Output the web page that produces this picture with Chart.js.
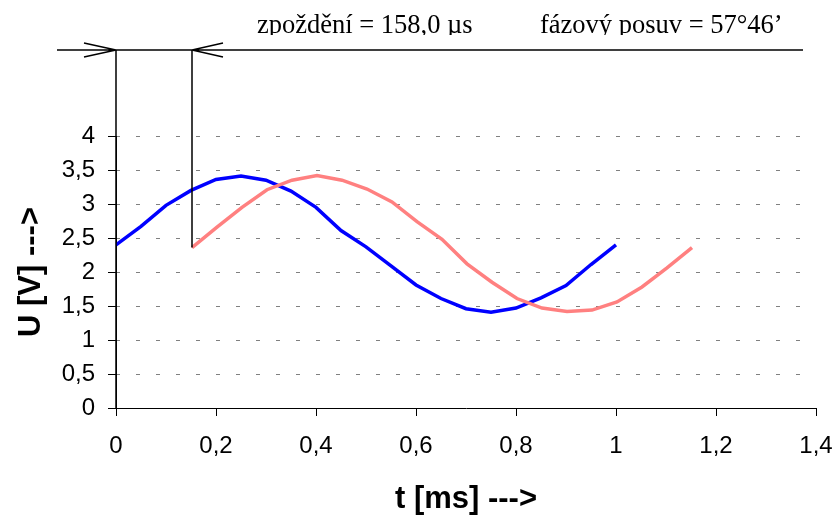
<!DOCTYPE html>
<html>
<head>
<meta charset="utf-8">
<script src="https://cdn.jsdelivr.net/npm/chart.js@4.4.0/dist/chart.umd.min.js"></script>
<style>
  html, body { margin: 0; padding: 0; background: #fff; }
</style>
</head>
<body>
<canvas id="chart" width="836" height="515"></canvas>
<script>
// vstupni signal (modra)
const timeIn = [0, 0.05, 0.1, 0.15, 0.2, 0.25, 0.3, 0.35, 0.4, 0.45, 0.5,
  0.55, 0.6, 0.65, 0.7, 0.75, 0.8, 0.85, 0.9, 0.95, 1.0];
const voltIn = [2.40, 2.67, 2.98, 3.20, 3.36, 3.41, 3.35, 3.19, 2.95, 2.61, 2.37,
  2.09, 1.81, 1.61, 1.46, 1.41, 1.47, 1.62, 1.80, 2.11, 2.40];

// vystupni signal (cervena), posunuty o zpozdeni
const timeOut = [0.152, 0.202, 0.252, 0.302, 0.352, 0.402, 0.452, 0.502, 0.552, 0.602, 0.652,
  0.702, 0.752, 0.802, 0.852, 0.902, 0.952, 1.002, 1.052, 1.102, 1.152];
const voltOut = [2.36, 2.66, 2.95, 3.21, 3.35, 3.42, 3.35, 3.22, 3.03, 2.74, 2.48,
  2.12, 1.85, 1.61, 1.47, 1.42, 1.44, 1.56, 1.78, 2.06, 2.36];

// osy
const xRange = [0, 1.4];
const xStep = 0.2;
const yRange = [0, 4];
const yStep = 0.5;

const noteDelay = 'zpoždění = 158,0 µs';
const notePhase = 'fázový posuv = 57°46’';

function toPoints(xs, ys) {
  return xs.map(function (x, i) { return { x: x, y: ys[i] }; });
}

function czNum(v) {
  return String(Number(v.toFixed(2))).replace('.', ',');
}

const delayMarks = {
  id: 'delayMarks',
  afterDraw(chart) {
    const ctx = chart.ctx;
    const xs = chart.scales.x;
    const ys = chart.scales.y;
    const area = chart.chartArea;
    const xa = xs.getPixelForValue(timeIn[0]);
    const xb = xs.getPixelForValue(timeOut[0]);
    const yBase = ys.getPixelForValue(yRange[0]);
    const yRed = ys.getPixelForValue(voltOut[0]);
    const top = area.top - 86;

    ctx.save();
    ctx.strokeStyle = '#000';
    ctx.lineWidth = 1.5;
    ctx.beginPath();
    ctx.moveTo(xa - 59, top);
    ctx.lineTo(area.right - 13, top);
    // sipka >
    ctx.moveTo(xa - 32, top - 7);
    ctx.lineTo(xa, top);
    ctx.lineTo(xa - 32, top + 7);
    // sipka <
    ctx.moveTo(xb + 31, top - 7);
    ctx.lineTo(xb, top);
    ctx.lineTo(xb + 31, top + 7);
    ctx.stroke();

    ctx.beginPath();
    ctx.moveTo(xa, top);
    ctx.lineTo(xa, yBase);
    ctx.moveTo(xb, top);
    ctx.lineTo(xb, yRed);
    ctx.stroke();

    // texty nahore, spodek orizly
    ctx.beginPath();
    ctx.rect(0, 0, chart.width, top - 15);
    ctx.clip();
    ctx.fillStyle = '#000';
    ctx.font = '26.5px "Liberation Serif"';
    ctx.textBaseline = 'alphabetic';
    ctx.textAlign = 'left';
    ctx.fillText(noteDelay, xa + 141, top - 17);
    ctx.fillText(notePhase, xa + 424, top - 17);
    ctx.restore();
  }
};

const ctx = document.getElementById('chart').getContext('2d');
const myChart = new Chart(ctx, {
  type: 'scatter',
  data: {
    datasets: [
      {
        label: 'vstup',
        data: toPoints(timeIn, voltIn),
        showLine: true,
        borderColor: '#0000FF',
        backgroundColor: '#0000FF',
        borderWidth: 3.5,
        pointRadius: 0,
        tension: 0,
        order: 2,
      },
      {
        label: 'vystup',
        data: toPoints(timeOut, voltOut),
        showLine: true,
        borderColor: '#FF8080',
        backgroundColor: '#FF8080',
        borderWidth: 3.5,
        pointRadius: 0,
        tension: 0,
        order: 1,
      },
    ],
  },
  options: {
    responsive: false,
    animation: false,
    layout: {
      autoPadding: false,
      padding: { left: 0, right: 20, top: 136, bottom: 0 },
    },
    plugins: {
      legend: { display: false },
      tooltip: { enabled: false },
    },
    scales: {
      x: {
        type: 'linear',
        min: xRange[0],
        max: xRange[1],
        afterFit: function (scale) {
          scale.height = 107;
          scale.paddingLeft = 0;
          scale.paddingRight = 0;
        },
        ticks: {
          stepSize: xStep,
          autoSkip: false,
          maxRotation: 0,
          padding: 16,
          color: '#000',
          font: { family: '"Liberation Sans"', size: 24 },
          callback: function (v) { return czNum(v); },
        },
        grid: {
          drawOnChartArea: false,
          drawTicks: true,
          tickLength: 8,
          tickColor: '#000',
        },
        border: { color: '#000', width: 1 },
        title: {
          display: true,
          text: 't [ms] --->',
          color: '#000',
          font: { family: '"Liberation Sans"', size: 31, weight: 'bold', lineHeight: 1 },
          padding: { top: 0, bottom: 0 },
        },
      },
      y: {
        min: yRange[0],
        max: yRange[1],
        afterFit: function (scale) {
          scale.width = 116;
          scale.paddingTop = 0;
          scale.paddingBottom = 0;
        },
        ticks: {
          stepSize: yStep,
          padding: 13,
          color: '#000',
          font: { family: '"Liberation Sans"', size: 24 },
          callback: function (v) { return czNum(v); },
        },
        grid: {
          color: '#808080',
          lineWidth: 1,
          tickLength: 8,
          tickColor: '#000',
          tickWidth: 1,
        },
        border: { color: '#000', width: 1, dash: [4, 16], dashOffset: 1 },
        title: {
          display: true,
          text: 'U [V] --->',
          color: '#000',
          font: { family: '"Liberation Sans"', size: 31, weight: 'bold', lineHeight: 1 },
          padding: { top: 16, bottom: 0 },
        },
      },
    },
  },
  plugins: [delayMarks],
});
</script>
</body>
</html>
